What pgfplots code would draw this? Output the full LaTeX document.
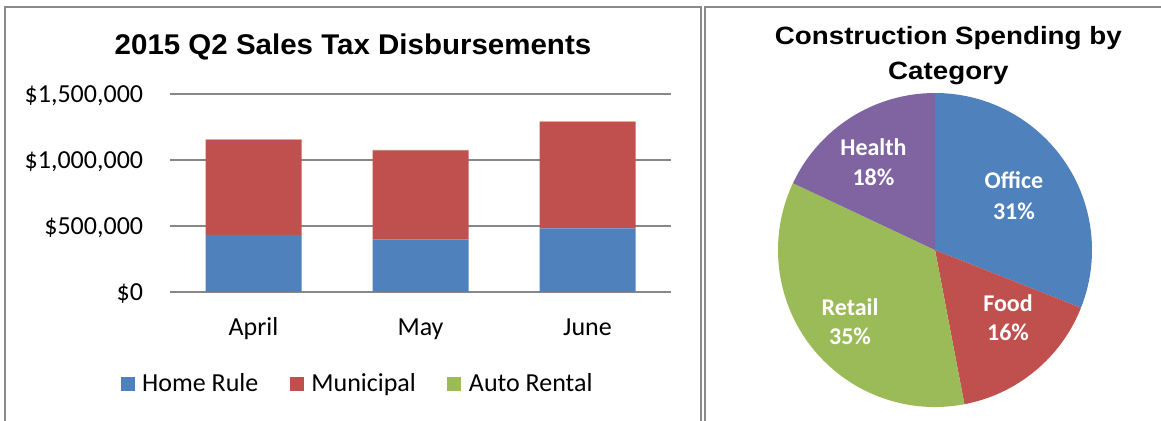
\documentclass[border=0pt]{standalone}
\usepackage{fontspec}
\setmainfont{Carlito}
\newfontfamily\arialf{Liberation Sans}
\usepackage{pgfplots}
\pgfplotsset{compat=1.18}
\definecolor{cblue}{HTML}{4F81BD}
\definecolor{cred}{HTML}{C0504D}
\definecolor{cgreen}{HTML}{9BBB59}
\definecolor{cpurple}{HTML}{8064A2}
\definecolor{bordergray}{HTML}{8A8A8A}
\definecolor{gridgray}{HTML}{878787}
\begin{document}
\begin{tikzpicture}[x=1pt,y=1pt]
\path[use as bounding box] (0,0) rectangle (1161,420);
% panel borders
\draw[bordergray, line width=1.6pt] (5,-10) -- (5,412.7) -- (701,412.7) -- (701,-10);
\draw[bordergray, line width=1.6pt] (705,-10) -- (705,412.7) -- (1175,412.7);
% titles
\node[anchor=base, inner sep=0pt, font={\arialf\bfseries\fontsize{28.5}{34}\selectfont}] at (353,365) {\scalebox{1.035}[1]{2015 Q2 Sales Tax Disbursements}};
\node[anchor=base, inner sep=0pt, font={\arialf\bfseries\fontsize{25}{30}\selectfont}] at (948.3,375) {\scalebox{1.11}[1]{Construction Spending by}};
\node[anchor=base, inner sep=0pt, font={\arialf\bfseries\fontsize{25}{30}\selectfont}] at (948.3,340) {\scalebox{1.11}[1]{Category}};

\begin{axis}[
  at={(170pt,128pt)}, anchor=south west,
  scale only axis, width=501pt, height=198pt,
  xmin=-0.5, xmax=2.5, ymin=0, ymax=1500000,
  ybar stacked, bar width=96pt,
  xtick={0,1,2}, xticklabels={April,May,June},
  ytick={0,500000,1000000,1500000},
  yticklabels={{\$0},{\$500,000},{\$1,000,000},{\$1,500,000}},
  scaled y ticks=false,
  axis line style={draw=none},
  major tick length=0pt,
  tick style={draw=none},
  ymajorgrids,
  major grid style={gridgray, line width=1.5pt},
  ticklabel style={font=\fontsize{26}{31}\selectfont, inner sep=0pt},
  yticklabel style={anchor=base east, xshift=-26.7pt, yshift=-8.2pt},
  xticklabel style={anchor=base, yshift=-43pt},
  legend style={at={(axis description cs:0.376,-0.463)}, anchor=center,
    draw=none, fill=none, font=\fontsize{26}{31}\selectfont,
    legend columns=3, inner sep=0pt,
    nodes={inner sep=3.5pt},
    /tikz/every even column/.append style={column sep=28pt}},
  legend cell align=left,
  legend image code/.code={\fill[#1,draw=none] (0pt,-7pt) rectangle (14pt,7pt); \path (18pt,0pt);},
]
\addplot+[fill=cblue, draw=none] coordinates {(0,432000) (1,399000) (2,482000)};
\addplot+[fill=cred, draw=none] coordinates {(0,721000) (1,673000) (2,807000)};
\addplot+[fill=cgreen, draw=none] coordinates {(0,4000) (1,4000) (2,4000)};
\legend{Home Rule,Municipal,Auto Rental}
\end{axis}

\begin{axis}[
  at={(935pt,170pt)}, anchor=center,
  scale only axis, width=314pt, height=314pt,
  xmin=-1, xmax=1, ymin=-1, ymax=1, hide axis, clip=false,
]
% slices: Office 31, Food 16, Retail 35, Health 18 (percent), clockwise from top
\fill[cblue]   (axis cs:0,0) -- (axis cs:0,1) arc[start angle=90, end angle={90-3.6*31}, radius=157pt] -- cycle;
\fill[cred]    (axis cs:0,0) -- (axis cs:{cos(90-3.6*31)},{sin(90-3.6*31)}) arc[start angle={90-3.6*31}, end angle={90-3.6*47}, radius=157pt] -- cycle;
\fill[cgreen]  (axis cs:0,0) -- (axis cs:{cos(90-3.6*47)},{sin(90-3.6*47)}) arc[start angle={90-3.6*47}, end angle={90-3.6*82}, radius=157pt] -- cycle;
\fill[cpurple] (axis cs:0,0) -- (axis cs:{cos(90-3.6*82)},{sin(90-3.6*82)}) arc[start angle={90-3.6*82}, end angle={90-3.6*100}, radius=157pt] -- cycle;
\begin{scope}[every node/.style={anchor=base, inner sep=0pt, text=white, font=\bfseries\fontsize{24}{29}\selectfont}]
\node at (axis cs:0.503,0.389) {Office};
\node at (axis cs:0.503,0.197) {31\%};
\node at (axis cs:0.465,-0.393) {Food};
\node at (axis cs:0.465,-0.578) {16\%};
\node at (axis cs:-0.541,-0.418) {Retail};
\node at (axis cs:-0.541,-0.601) {35\%};
\node at (axis cs:-0.392,0.601) {Health};
\node at (axis cs:-0.392,0.410) {18\%};
\end{scope}
\end{axis}
\end{tikzpicture}
\end{document}
